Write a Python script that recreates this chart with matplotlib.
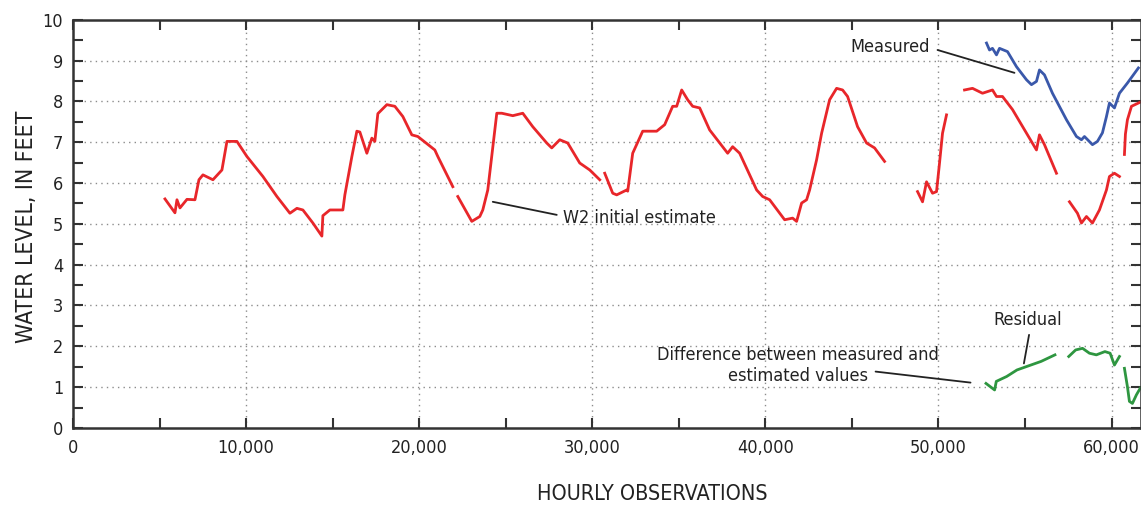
import matplotlib
matplotlib.use("Agg")
import matplotlib.pyplot as plt
import numpy as np

plt.rcParams['font.family'] = ['DejaVu Sans']
plt.rcParams['font.stretch'] = 'condensed'

nan = np.nan

# W2 initial estimate (red), gaps as NaN
est_hours = [5312, 5889, 6005, 6178, 6582, 7044, 7275, 7506, 8083, 8603, 8892, 9469,
             10047, 10971, 11779, 12530, 12934, 13280, 13858, 14377, 14435, 14839,
             15590, 15705, 16110, 16398, 16571, 16976, 17264, 17437, 17611, 18130,
             18592, 19054, 19574, 19920, 20902, 21075, 21941, 22080,
             22230, 23038, 23500, 23673, 23962, 24482, 24770, 25406, 25983, 26560,
             27369, 27657, 28119, 28581, 29274, 29852, 30429, 30570,
             30718, 31180, 31411, 31988, 32046, 32334, 32912, 33720, 34182, 34644,
             34875, 35164, 35510, 35799, 36203, 36780, 37820, 38108, 38513, 39494,
             39841, 40245, 41111, 41573, 41804, 42093, 42382, 42555, 42959, 43248,
             43710, 44114, 44460, 44749, 45326, 45846, 46308, 46885, 47800,
             48790, 49079, 49310, 49656, 49887, 50060, 50233, 50464, 51000,
             51504, 51966, 52543, 53120, 53351, 53698, 54276, 55084, 55661, 55834,
             56123, 56816, 57200,
             57567, 58029, 58260, 58549, 58895, 59299, 59704, 59877, 60166, 60455, 60600,
             60743, 60800, 60916, 61150, 61650]
est_level = [5.61, 5.27, 5.59, 5.39, 5.60, 5.59, 6.08, 6.20, 6.08, 6.32, 7.02, 7.02,
             6.65, 6.16, 5.67, 5.26, 5.38, 5.34, 5.02, 4.70, 5.20, 5.34,
             5.34, 5.71, 6.65, 7.27, 7.25, 6.73, 7.10, 7.02, 7.70, 7.92,
             7.88, 7.63, 7.18, 7.14, 6.81, 6.65, 5.91, nan,
             5.67, 5.06, 5.18, 5.34, 5.83, 7.71, 7.71, 7.65, 7.71, 7.38,
             6.98, 6.86, 7.06, 6.98, 6.49, 6.32, 6.08, nan,
             6.24, 5.75, 5.71, 5.83, 5.80, 6.73, 7.27, 7.27, 7.43, 7.88,
             7.88, 8.28, 8.04, 7.88, 7.84, 7.30, 6.73, 6.89, 6.73, 5.83,
             5.67, 5.59, 5.10, 5.14, 5.06, 5.51, 5.59, 5.83, 6.57, 7.22,
             8.04, 8.32, 8.28, 8.12, 7.38, 6.98, 6.86, 6.53, nan,
             5.79, 5.54, 6.03, 5.75, 5.79, 6.49, 7.22, 7.67, nan,
             8.28, 8.32, 8.20, 8.28, 8.12, 8.12, 7.80, 7.22, 6.81, 7.18,
             6.94, 6.24, nan,
             5.54, 5.26, 5.02, 5.18, 5.02, 5.34, 5.83, 6.16, 6.24, 6.16, nan,
             6.70, 7.20, 7.55, 7.88, 7.98]

# Measured (blue)
meas_hours = [52774, 52947, 53120, 53351, 53525, 53987, 54507, 55084, 55372, 55661,
              55834, 56123, 56585, 57394, 57971, 58260, 58433, 58895, 59184, 59472,
              59700, 59877, 60166, 60455, 60916, 61550]
meas_level = [9.43, 9.26, 9.30, 9.14, 9.30, 9.22, 8.85, 8.53, 8.41, 8.49,
              8.77, 8.65, 8.20, 7.55, 7.14, 7.06, 7.14, 6.94, 7.02, 7.23,
              7.62, 7.96, 7.84, 8.20, 8.45, 8.82]

# Residual (green)
resid_hours = [52745, 53242, 53340, 53940, 54535, 55332, 55932, 56729, 57100,
               57526, 57925, 58323, 58721, 59120, 59616, 59916, 60166, 60455, 60600,
               60743, 60916, 61031, 61204, 61435, 61666]
resid_level = [1.09, 0.93, 1.14, 1.26, 1.42, 1.54, 1.63, 1.79, nan,
               1.75, 1.91, 1.95, 1.83, 1.79, 1.87, 1.83, 1.54, 1.75, nan,
               1.46, 1.01, 0.65, 0.60, 0.81, 0.98]

xtick_vals = [0, 10000, 20000, 30000, 40000, 50000, 60000]
xtick_labels = ['0', '10,000', '20,000', '30,000', '40,000', '50,000', '60,000']

fig = plt.figure(figsize=(11.41, 5.07), dpi=100)
ax = fig.add_axes([0.064, 0.156, 0.936, 0.805])

ax.plot(est_hours, est_level, color='#e8262a', lw=2.0)
ax.plot(meas_hours, meas_level, color='#3a58aa', lw=2.0)
ax.plot(resid_hours, resid_level, color='#2e9640', lw=2.0)

ax.set_xlim(0, 61700)
ax.set_ylim(0, 10)
ax.set_xticks(xtick_vals)
ax.set_xticklabels(xtick_labels)
ax.set_xticks(np.arange(5000, 60001, 10000), minor=True)
ax.set_yticks(np.arange(0, 11, 1))
ax.set_yticks(np.arange(0.5, 10, 1), minor=True)

ax.tick_params(which='both', direction='in', top=True, right=True, length=7,
               width=1.5, color='#333333', labelsize=13, labelcolor='#222222')
ax.tick_params(axis='x', pad=8)
ax.tick_params(axis='y', pad=7)
for s in ax.spines.values():
    s.set_color('#333333')
    s.set_linewidth(1.8)

for yv in range(1, 10):
    ax.axhline(yv, color='#8c8c8c', lw=1, ls=(0, (1, 3)), zorder=0)
for xv in xtick_vals[1:]:
    ax.axvline(xv, color='#8c8c8c', lw=1, ls=(0, (1, 3)), zorder=0)

ax.set_xlabel('HOURLY OBSERVATIONS', fontsize=15.5, color='#222222', va='center')
ax.xaxis.set_label_coords(0.542, -0.163)
ax.set_ylabel('WATER LEVEL, IN FEET', fontsize=16.5, color='#222222', va='center')
ax.yaxis.set_label_coords(-0.044, 0.493)

leader = dict(arrowstyle='-', color='#222222', lw=1.3, shrinkA=0, shrinkB=0)
ax.annotate('', xy=(54390, 8.70), xytext=(49945, 9.26), arrowprops=leader)
ax.text(49483, 9.34, 'Measured', ha='right', va='center', fontsize=13, color='#222222')
ax.annotate('', xy=(24251, 5.54), xytext=(27946, 5.22), arrowprops=leader)
ax.text(28293, 5.15, 'W2 initial estimate', ha='left', va='center', fontsize=13, color='#222222')
ax.annotate('', xy=(54935, 1.58), xytext=(55233, 2.28), arrowprops=leader)
ax.text(55140, 2.65, 'Residual', ha='center', va='center', fontsize=13, color='#222222')
ax.annotate('', xy=(51851, 1.11), xytext=(46366, 1.38), arrowprops=leader)
ax.text(41886, 1.52, 'Difference between measured and\nestimated values', ha='center',
        va='center', fontsize=13, color='#222222', multialignment='center', linespacing=1.2)

fig.savefig('out.png', dpi=100)
